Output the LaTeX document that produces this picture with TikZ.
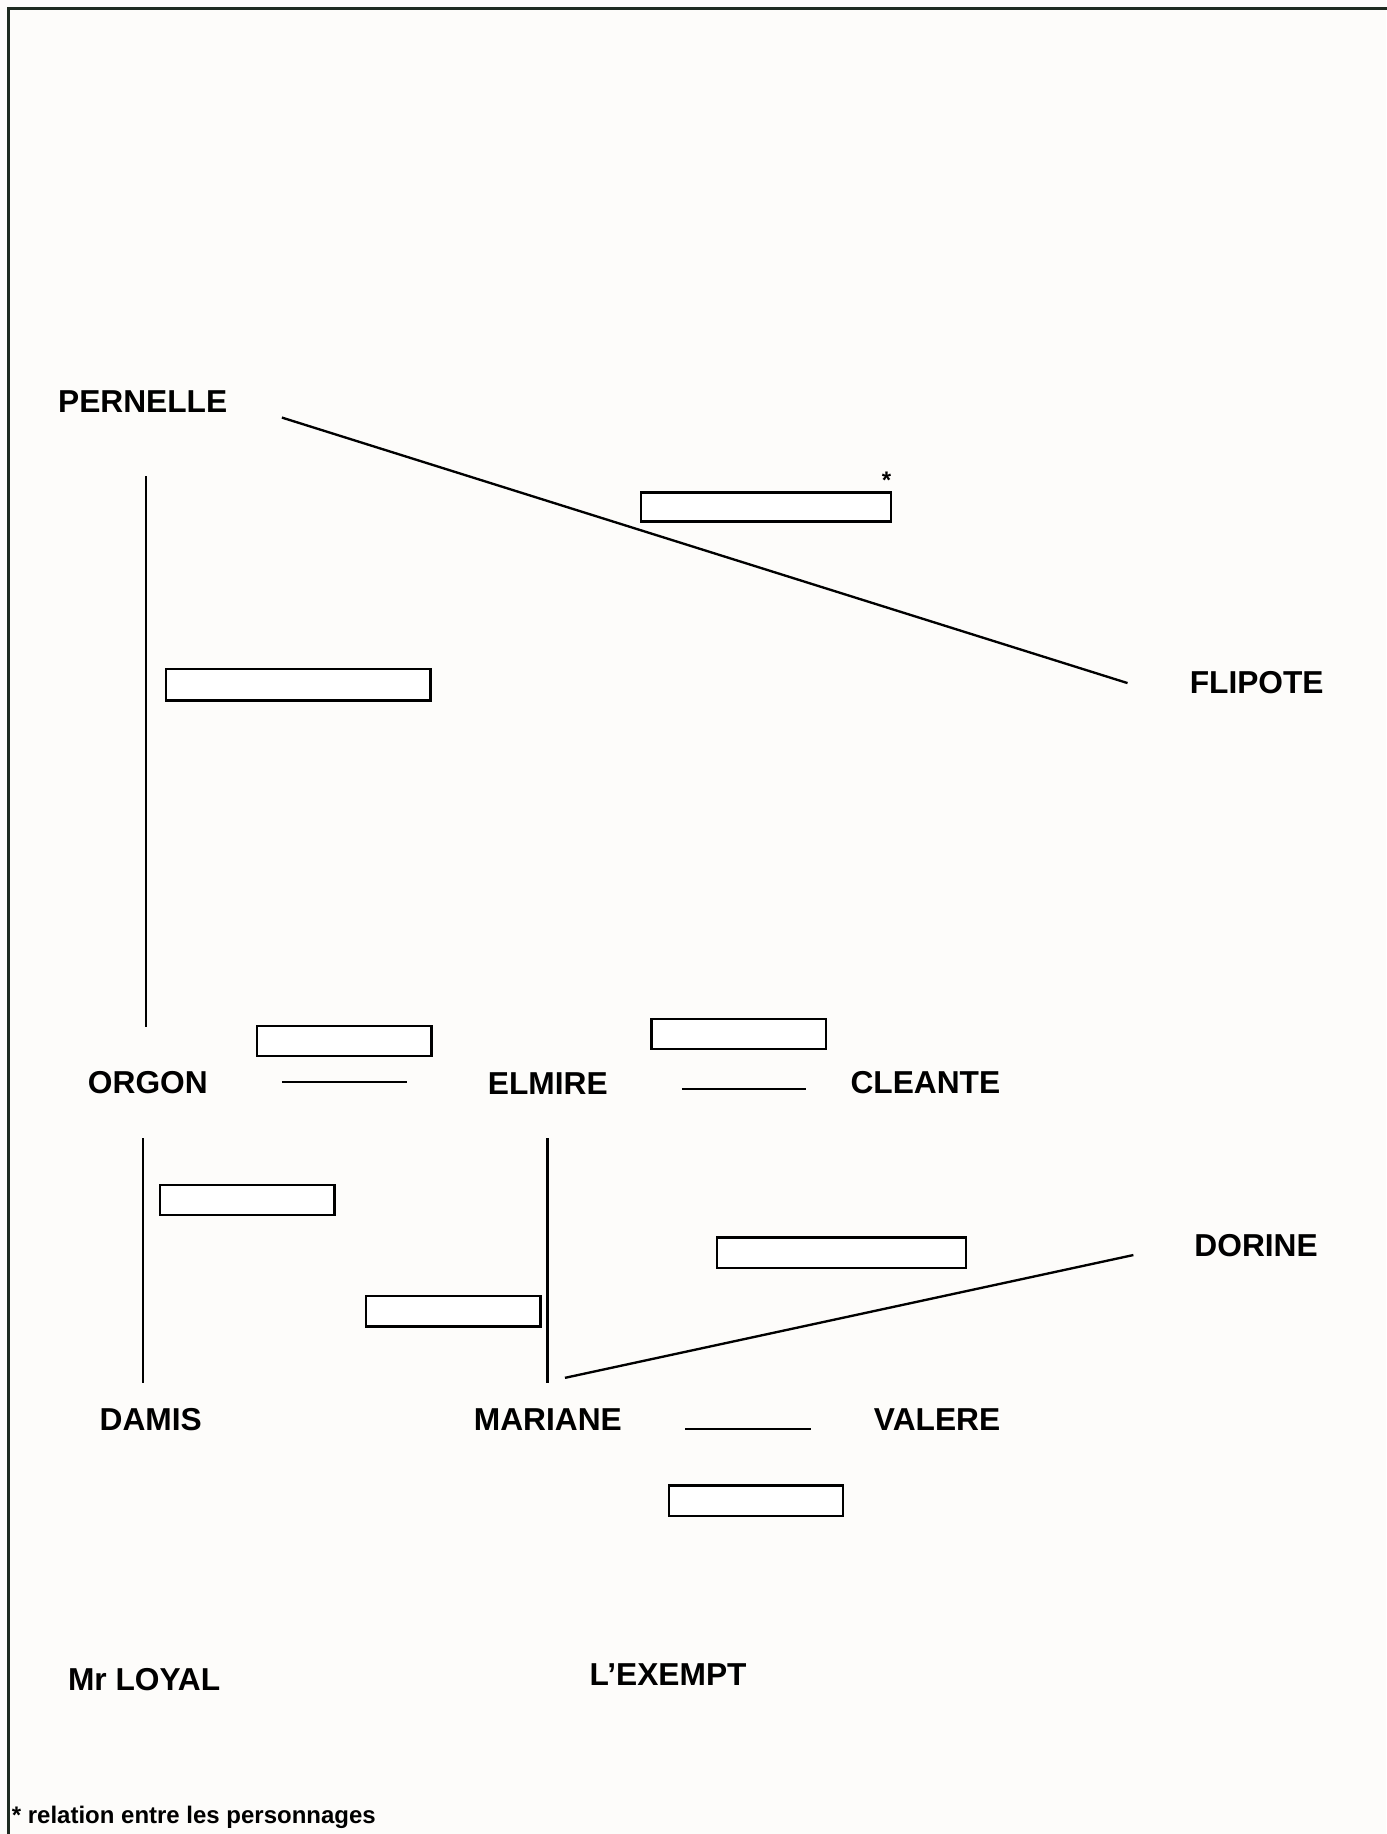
\documentclass[tikz,border=0pt]{standalone}
\usepackage{fontspec}
\setmainfont{Liberation Sans}
\definecolor{bgc}{RGB}{253,252,250}
\definecolor{framec}{RGB}{30,42,32}
\begin{document}
\begin{tikzpicture}[x=1pt,y=-1pt,
  namelbl/.style={anchor=base west,inner sep=0pt,font=\fontsize{27.1}{30}\selectfont\bfseries},
  smalllbl/.style={anchor=base west,inner sep=0pt,font=\fontsize{20.5}{23}\selectfont\bfseries},
  relbox/.style={draw=black,fill=white,line width=2pt,inner sep=0pt,minimum width=149pt,minimum height=26pt},
  rel/.style={draw=black,line width=2pt}]
\fill[bgc] (0,0) rectangle (1185,1568);
\useasboundingbox (0,0) rectangle (1185,1568);
\draw[framec,line width=2.5pt] (7,1570) -- (7,7.5) -- (1187,7.5);

% names
\node[namelbl] (pernelle) at (49.5,353) {PERNELLE};
\node[namelbl] (flipote) at (1017,593) {FLIPOTE};
\node[namelbl] (orgon) at (75,935) {ORGON};
\node[namelbl] (elmire) at (417,936) {ELMIRE};
\node[namelbl] (cleante) at (727,935) {CLEANTE};
\node[namelbl] (dorine) at (1021,1074) {DORINE};
\node[namelbl] (damis) at (85,1223) {DAMIS};
\node[namelbl] (mariane) at (405,1223) {MARIANE};
\node[namelbl] (valere) at (747,1223) {VALERE};
\node[namelbl] (loyal) at (58,1445) {Mr LOYAL};
\node[namelbl] (exempt) at (504,1441) {L’EXEMPT};
\node[smalllbl] (note) at (10,1559) {* relation entre les personnages};

% relation boxes
\node[relbox,minimum width=214pt,minimum height=25pt] (b1) at (655,433.5) {};
\node[inner sep=0pt,font=\fontsize{20.5}{23}\selectfont\bfseries] (star) at (758,411) {*};
\node[relbox,minimum width=226pt,minimum height=27pt] (b2) at (255,585.5) {};
\node[relbox] (b3) at (294.5,890) {};
\node[relbox] (b4) at (631.5,884) {};
\node[relbox] (b5) at (211.5,1026) {};
\node[relbox] (b6) at (387.5,1121) {};
\node[relbox,minimum width=213pt] (b7) at (719.5,1071) {};
\node[relbox] (b8) at (646.5,1283) {};

% connector end points
\coordinate (pf1) at (241,357);   \coordinate (pf2) at (964,584);
\coordinate (po1) at (125,407);   \coordinate (po2) at (125,878);
\coordinate (oe1) at (241,925);   \coordinate (oe2) at (348,925);
\coordinate (ec1) at (583,931);   \coordinate (ec2) at (689,931);
\coordinate (od1) at (122,973);   \coordinate (od2) at (122,1182);
\coordinate (em1) at (468,973);   \coordinate (em2) at (468,1182);
\coordinate (md1) at (483,1178);  \coordinate (md2) at (969,1073);
\coordinate (mv1) at (586,1222);  \coordinate (mv2) at (693,1222);

\draw[rel] (pf1) -- (pf2);
\draw[rel] (po1) -- (po2);
\draw[rel] (oe1) -- (oe2);
\draw[rel] (ec1) -- (ec2);
\draw[rel] (od1) -- (od2);
\draw[rel] (em1) -- (em2);
\draw[rel] (md1) -- (md2);
\draw[rel] (mv1) -- (mv2);
\end{tikzpicture}
\end{document}
